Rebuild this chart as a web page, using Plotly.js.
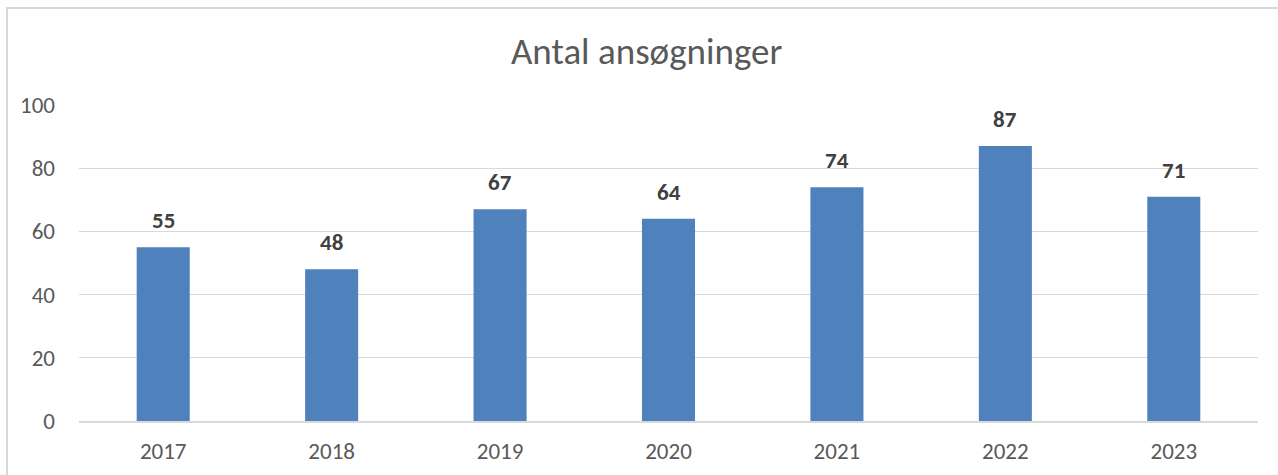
<!DOCTYPE html>
<html>
<head>
<meta charset="utf-8">
<script src="https://cdn.plot.ly/plotly-3.0.1.min.js"></script>
<style>
html,body{margin:0;padding:0;overflow:hidden;background:#fff;}
#chart{position:absolute;left:0;top:0;width:1278px;height:475px;}
#frame{position:absolute;left:6px;top:7px;width:1400px;height:600px;border:2px solid #d9d9d9;pointer-events:none;}
</style>
</head>
<body>
<div id="chart"></div>
<div id="frame"></div>
<script>
const years = ['2017','2018','2019','2020','2021','2022','2023'];
const applications = [55, 48, 67, 64, 74, 87, 71];
const yTicks = [0, 20, 40, 60, 80, 100];
const chartTitle = 'Antal ansøgninger';

const font = 'Carlito, Calibri, "Liberation Sans", Arial, sans-serif';

const trace = {
  type: 'bar',
  x: years,
  y: applications,
  marker: {color: '#4f81bd'},
  hoverinfo: 'x+y'
};

const annotations = years.map((yr, i) => ({
  x: i, y: applications[i], xref: 'x', yref: 'y',
  text: String(applications[i]),
  showarrow: false, yanchor: 'bottom', yshift: 11,
  font: {family: font, size: 23, color: '#404040', weight: 'bold'}
}));

const layout = {
  width: 1278, height: 475,
  margin: {l: 79, r: 20, t: 105, b: 54},
  paper_bgcolor: '#ffffff',
  plot_bgcolor: '#ffffff',
  bargap: 0.685,
  showlegend: false,
  title: {
    text: chartTitle,
    x: 0.506, xanchor: 'center',
    y: 1 - 51/475, yanchor: 'middle', yref: 'container',
    font: {family: font, size: 37, color: '#595959'}
  },
  xaxis: {
    type: 'category',
    range: [-0.5, years.length - 0.5],
    autorange: false,
    showgrid: false,
    showline: true, linecolor: '#d9d9d9', linewidth: 2,
    ticks: '',
    ticklabelstandoff: 8,
    tickfont: {family: font, size: 23, color: '#595959'}
  },
  yaxis: {
    range: [0, 100],
    autorange: false,
    tickvals: yTicks,
    ticktext: yTicks.map(String),
    showgrid: true, gridcolor: '#d9d9d9', gridwidth: 1,
    zeroline: false, showline: false,
    ticks: '',
    ticklabelstandoff: 23,
    tickfont: {family: font, size: 23, color: '#595959'}
  },
  annotations: annotations
};

Plotly.newPlot('chart', [trace], layout, {displayModeBar: false, staticPlot: true});
</script>
</body>
</html>
